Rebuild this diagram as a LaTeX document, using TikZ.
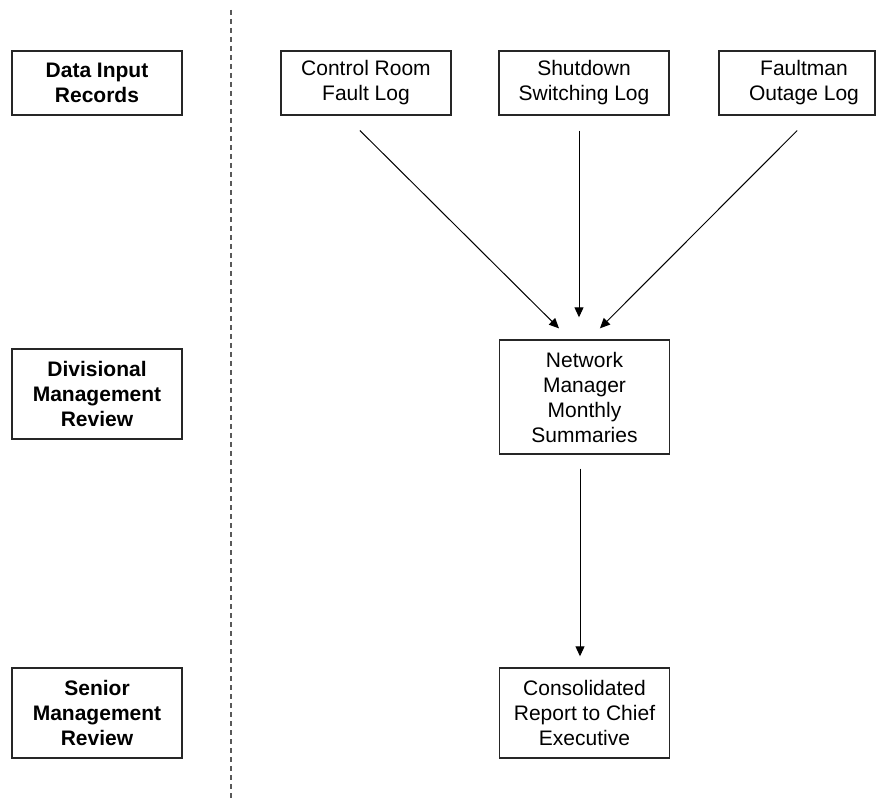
\documentclass[tikz,border=0pt]{standalone}
\usepackage{fontspec}
\setmainfont{Liberation Sans}
\usetikzlibrary{arrows.meta}
\tikzset{
  box/.style={draw=black!85, line width=1.4pt, minimum width=170pt, inner sep=0pt, align=center, font=\fontsize{21}{25}\selectfont},
  lanebox/.style={box, minimum height=64pt, font=\fontsize{21}{25}\selectfont\bfseries},
  flow/.style={line width=1pt, -{Triangle[length=10pt,width=9pt]}},
  divider/.style={draw=black!65, line width=1.8pt, dash pattern=on 5pt off 4pt}
}
\begin{document}
\begin{tikzpicture}[x=1pt,y=-1pt]
\useasboundingbox (0,0) rectangle (876,802);
% lane labels
\node[lanebox, minimum height=64pt] (data) at (97,83) {Data Input\\Records};
\node[lanebox, minimum height=90pt] (div) at (97,394) {Divisional\\Management\\Review};
\node[lanebox, minimum height=90pt] (sen) at (97,713) {Senior\\Management\\Review};
% divider
\coordinate (dtop) at (231,10);
\coordinate (dbot) at (231,798);
\draw[divider] (dtop) -- (dbot);
% records
\node[box, minimum height=64pt] (ctrl) at (366,83) {Control Room\\Fault Log};
\node[box, minimum height=64pt] (shut) at (584,83) {Shutdown\\Switching Log};
\node[box, minimum height=64pt] (fm) at (804,83) {Faultman\\Outage Log};
\coordinate (redge) at (875,0);
\draw[draw=black!85, line width=1.4pt] (fm.north west -| redge) -- (fm.south west -| redge);
% summaries
\node[box, minimum height=114pt] (net) at (584.5,397) {Network\\Manager\\Monthly\\Summaries};
\node[box, minimum height=90pt] (cons) at (584.5,713) {Consolidated\\Report to Chief\\Executive};
% connectors
\draw[flow, shorten <=21pt, shorten >=15.5pt] ([xshift=-21pt]ctrl.south) -- ([xshift=-14.5pt]net.north);
\draw[flow, shorten <=15pt, shorten >=22pt] ([xshift=-5pt]shut.south) -- ([xshift=-5.5pt]net.north);
\draw[flow, shorten <=21pt, shorten >=15.5pt] ([xshift=8pt]fm.south) -- ([xshift=4.5pt]net.north);
\draw[flow, shorten <=14pt, shorten >=11pt] ([xshift=-4.5pt]net.south) -- ([xshift=-4.5pt]cons.north);
\end{tikzpicture}
\end{document}
